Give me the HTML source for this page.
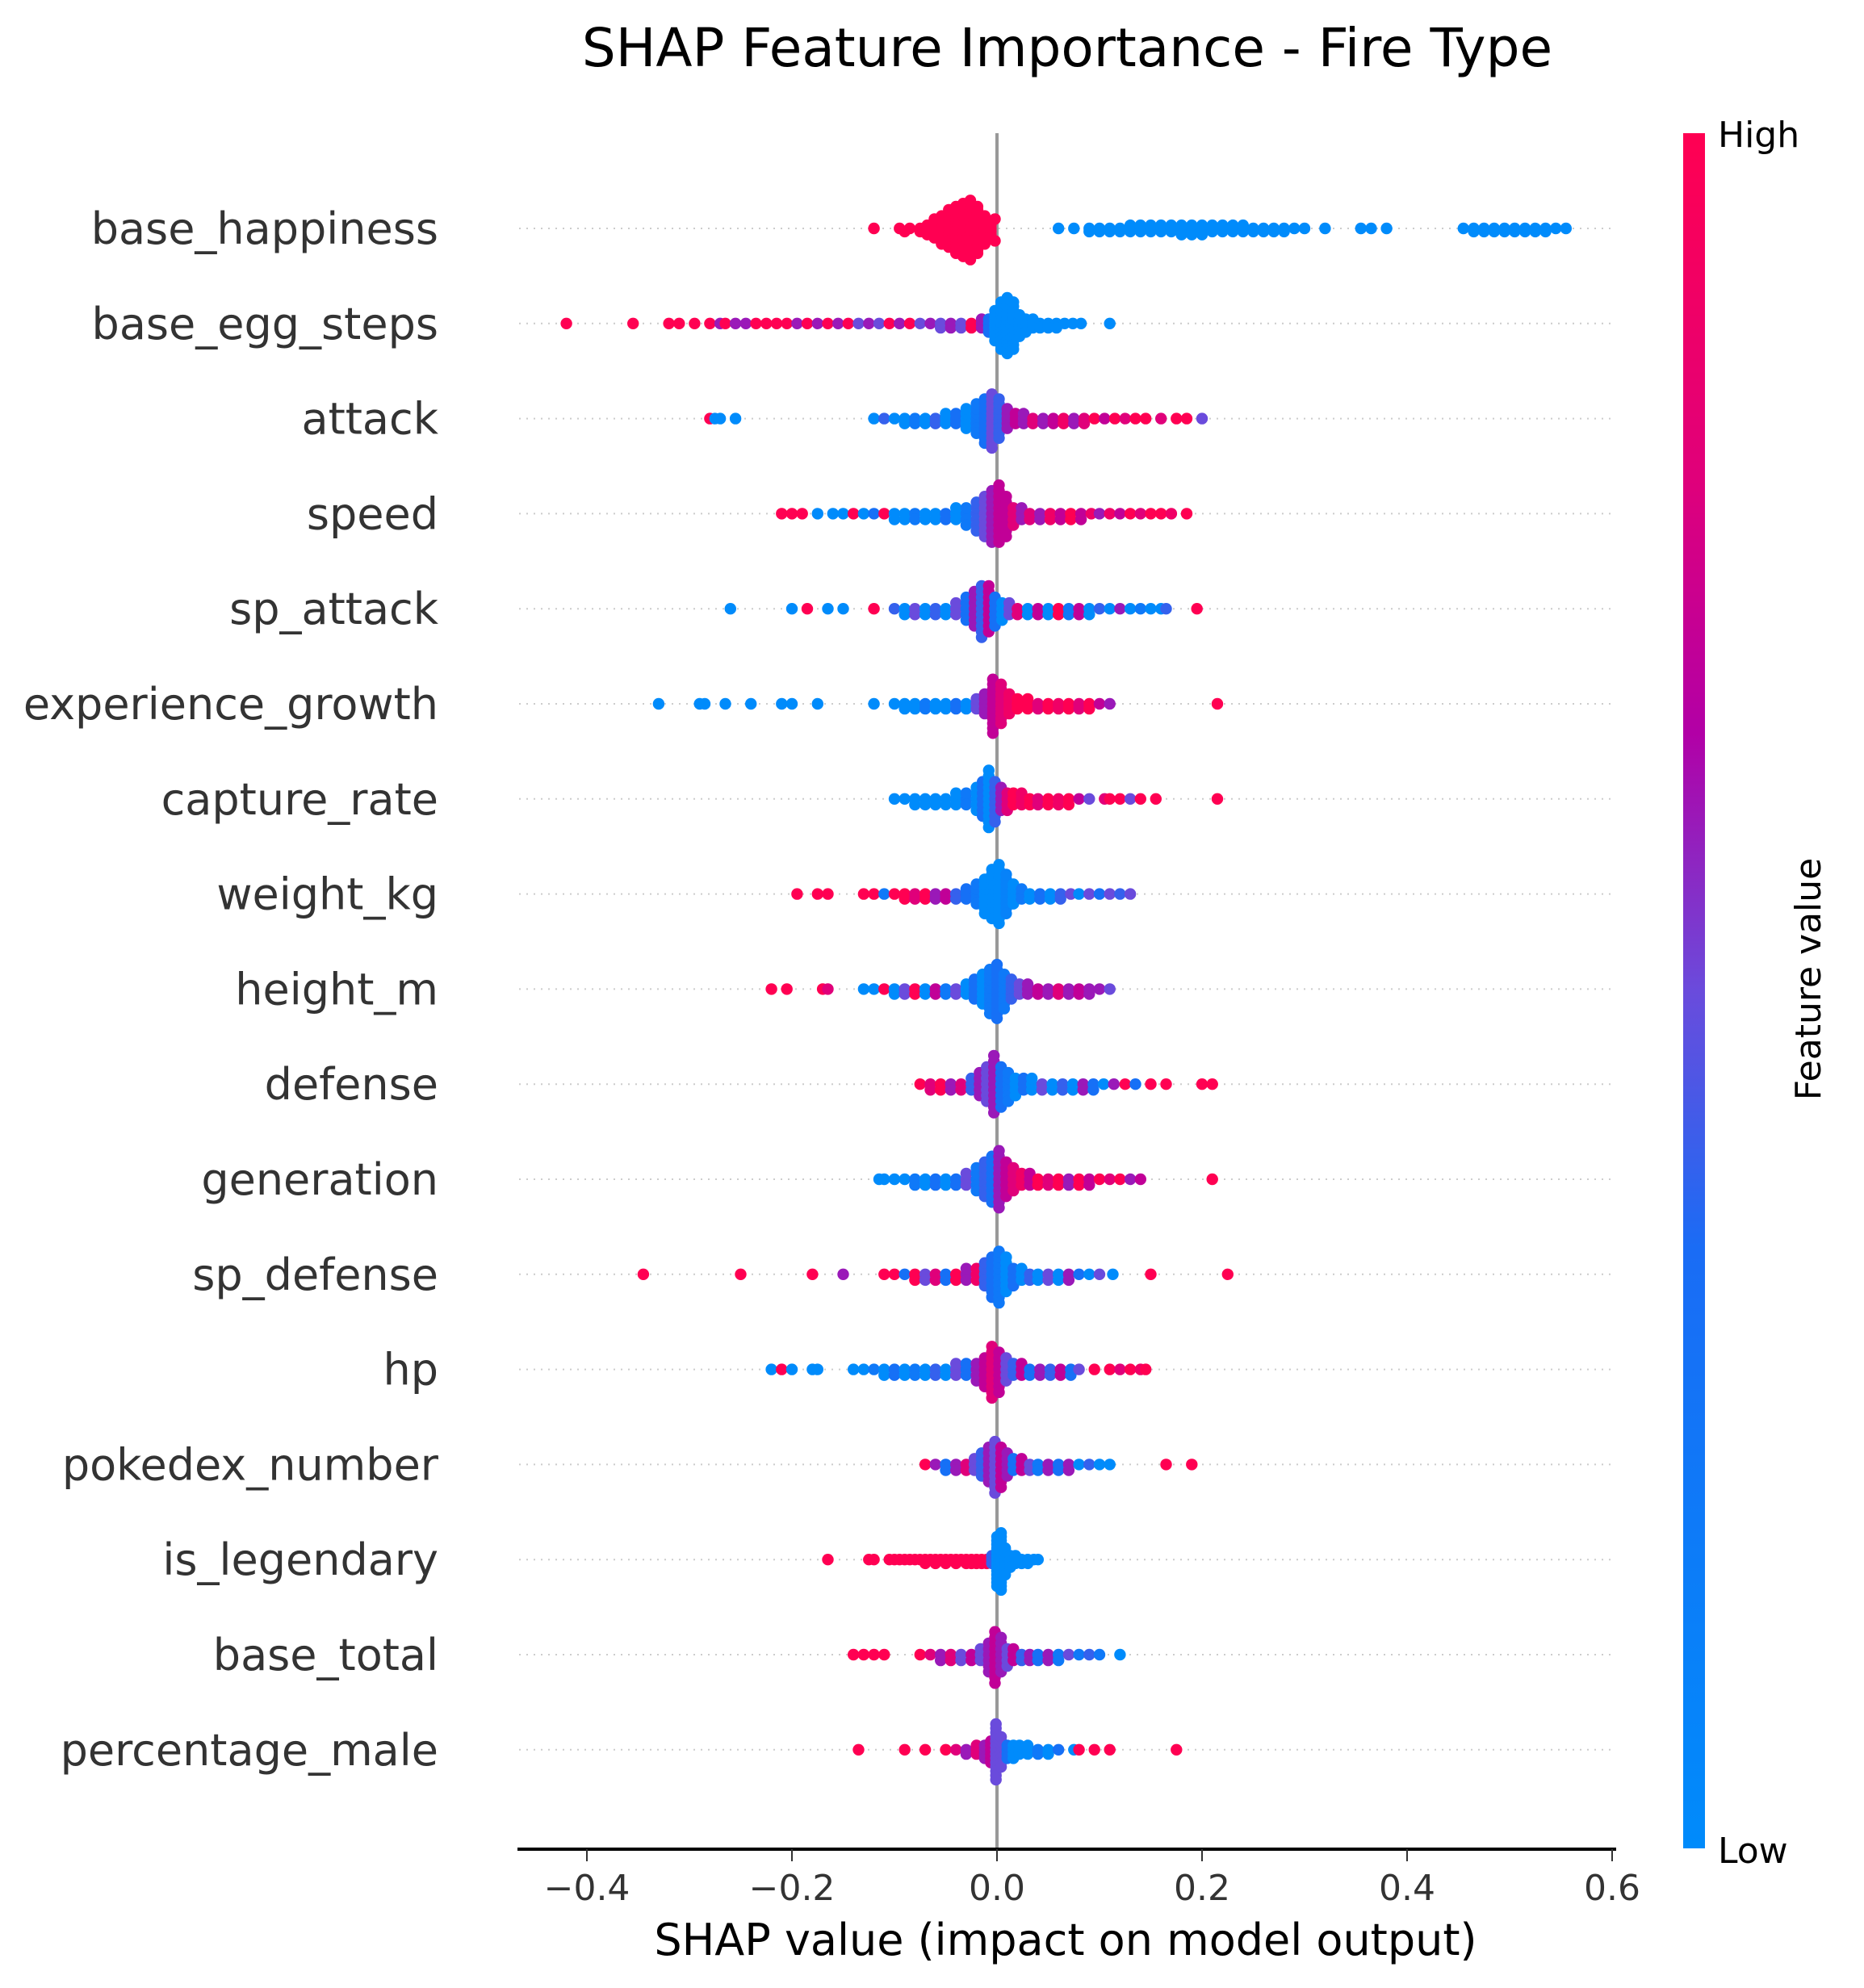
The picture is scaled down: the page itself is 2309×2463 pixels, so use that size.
<!DOCTYPE html>
<html><head><meta charset="utf-8"><style>
html,body{margin:0;padding:0;background:#fff;}
svg{display:block;font-family:"DejaVu Sans","Liberation Sans",sans-serif;}
</style></head><body>
<svg id="chart" width="2309" height="2463" viewBox="0 0 2309 2463" xmlns="http://www.w3.org/2000/svg">
<defs><linearGradient id="cbg" x1="0" y1="1" x2="0" y2="0">
<stop offset="0" stop-color="#008bfb"/><stop offset="0.35" stop-color="#1a6cf5"/><stop offset="0.5" stop-color="#6a4bdc"/><stop offset="0.65" stop-color="#b200a6"/><stop offset="0.8" stop-color="#e0007a"/><stop offset="1" stop-color="#ff0052"/></linearGradient></defs>
<text x="1322" y="82" font-size="66" text-anchor="middle" fill="#000">SHAP Feature Importance - Fire Type</text>
<g id="grid"></g><g id="zero"></g><g id="dots"></g><g id="ylabels"></g><g id="xaxis"></g>
<rect x="2085" y="165" width="27" height="2125" fill="url(#cbg)"/>
<text x="2128" y="182" font-size="44" fill="#000">High</text>
<text x="2128" y="2308" font-size="44" fill="#000">Low</text>
<text x="2270" y="1228" font-size="44" fill="#000" text-anchor="middle" transform="rotate(-90 2255 1228)">Feature value</text>
<text x="1320" y="2422" font-size="54" text-anchor="middle" fill="#000">SHAP value (impact on model output)</text>
</svg>
<script>
const features=["base_happiness","base_egg_steps","attack","speed","sp_attack","experience_growth","capture_rate","weight_kg","height_m","defense","generation","sp_defense","hp","pokedex_number","is_legendary","base_total","percentage_male"];
const xTicks=[-0.4,-0.2,0.0,0.2,0.4,0.6];
const xTickLabels=["\u22120.4","\u22120.2","0.0","0.2","0.4","0.6"];
// each entry: [shap value, feature value (0 low..1 high), count]
const shap_base_happiness=[[-0.12,1,1],[-0.095,1,1],[-0.09,1,1],[-0.085,1,1],[-0.075,1,2],[-0.068,1,4],[-0.061,1,7],[-0.054,1,10],[-0.047,1,13],[-0.040,1,16],[-0.033,1,18],[-0.026,1,20],[-0.019,1,16],[-0.012,1,10],[-0.006,1,6],[-0.002,1,2],[0.06,0,1],[0.075,0,1],[0.09,0,2],[0.1,0,2],[0.11,0,2],[0.12,0,2],[0.13,0,3],[0.14,0,3],[0.15,0,3],[0.16,0,3],[0.17,0,3],[0.18,0,4],[0.19,0,4],[0.2,0,4],[0.21,0,3],[0.22,0,3],[0.23,0,3],[0.24,0,3],[0.25,0,2],[0.26,0,2],[0.27,0,2],[0.28,0,2],[0.29,0,1],[0.3,0,1],[0.32,0,1],[0.355,0,1],[0.365,0,1],[0.38,0,1],[0.455,0,1],[0.465,0,2],[0.475,0,2],[0.485,0,2],[0.495,0,2],[0.505,0,2],[0.515,0,2],[0.525,0,2],[0.535,0,2],[0.545,0,1],[0.555,0,1]];
const shap_base_egg_steps=[[-0.42,1,1],[-0.355,1,1],[-0.32,1,1],[-0.31,1,1],[-0.295,1,1],[-0.28,1,1],[-0.27,0.6,1],[-0.265,1,1],[-0.255,0.6,1],[-0.245,0.6,1],[-0.235,1,1],[-0.225,1,1],[-0.215,1,1],[-0.205,1,1],[-0.195,0.6,1],[-0.185,1,1],[-0.175,0.6,1],[-0.165,1,1],[-0.155,0.6,1],[-0.145,1,1],[-0.135,0.5,1],[-0.125,0.6,1],[-0.115,0.5,1],[-0.105,1,1],[-0.095,0.6,1],[-0.085,1,1],[-0.075,0.5,1],[-0.065,0.6,1],[-0.055,0.5,2],[-0.045,0.6,2],[-0.035,0.5,2],[-0.025,1,2],[-0.015,0.6,3],[-0.008,0.3,4],[-0.002,0,8],[0.004,0,12],[0.01,0,14],[0.016,0,12],[0.022,0,6],[0.028,0,4],[0.035,0,3],[0.042,0,2],[0.05,0,2],[0.058,0,2],[0.066,0,1],[0.074,0,1],[0.082,0,1],[0.11,0,1]];
const shap_attack=[[-0.28,1,1],[-0.275,0,1],[-0.27,0,1],[-0.255,0,1],[-0.12,0,1],[-0.11,0.4,1],[-0.1,0,1],[-0.09,0,2],[-0.08,0.2,2],[-0.07,0,2],[-0.06,0.4,2],[-0.05,0,3],[-0.04,0.3,3],[-0.03,0,5],[-0.02,0.2,7],[-0.012,0.3,10],[-0.005,0.5,12],[0.002,0.4,9],[0.01,0.6,5],[0.018,0.7,3],[0.026,0.6,3],[0.035,0.8,2],[0.045,0.6,2],[0.055,0.7,2],[0.065,0.9,2],[0.075,0.6,2],[0.085,0.8,2],[0.095,1,1],[0.105,0.7,1],[0.115,1,1],[0.125,0.8,1],[0.135,1,1],[0.145,1,1],[0.16,0.8,1],[0.175,1,1],[0.185,1,1],[0.2,0.5,1]];
const shap_speed=[[-0.21,1,1],[-0.2,1,1],[-0.19,1,1],[-0.175,0,1],[-0.16,0,1],[-0.15,0,1],[-0.14,1,1],[-0.13,0,1],[-0.12,0.3,1],[-0.11,1,1],[-0.1,0,2],[-0.09,0,2],[-0.08,0.2,2],[-0.07,0,2],[-0.06,0,2],[-0.05,0.3,2],[-0.04,0,3],[-0.03,0.2,4],[-0.02,0.4,6],[-0.012,0.5,8],[-0.005,0.6,10],[0.002,0.7,11],[0.009,0.7,8],[0.016,0.8,4],[0.024,0.6,3],[0.032,0.8,2],[0.042,0.6,2],[0.052,0.9,2],[0.062,0.7,2],[0.072,1,2],[0.082,0.7,2],[0.092,0.9,1],[0.1,0.6,1],[0.11,0.9,1],[0.12,0.7,1],[0.13,1,1],[0.14,0.8,1],[0.15,1,1],[0.16,1,1],[0.17,0.9,1],[0.185,1,1]];
const shap_sp_attack=[[-0.26,0,1],[-0.2,0,1],[-0.185,1,1],[-0.165,0,1],[-0.15,0,1],[-0.12,1,1],[-0.1,0.4,1],[-0.09,0,2],[-0.08,0.5,2],[-0.07,0,2],[-0.06,0.4,2],[-0.05,0,2],[-0.04,0.5,3],[-0.03,0.3,5],[-0.022,0.6,7],[-0.015,0.4,10],[-0.008,0.7,9],[-0.002,0.3,6],[0.005,0,4],[0.012,0.5,3],[0.02,0.8,2],[0.03,0,2],[0.04,0.7,2],[0.05,0,2],[0.06,1,2],[0.07,0.2,2],[0.08,0.7,2],[0.09,0,2],[0.1,0.4,1],[0.11,0,1],[0.12,0.6,1],[0.13,0,1],[0.14,0.2,1],[0.15,0,1],[0.16,0,1],[0.165,0.4,1],[0.195,1,1]];
const shap_experience_growth=[[-0.33,0,1],[-0.29,0,1],[-0.285,0,1],[-0.265,0,1],[-0.24,0,1],[-0.21,0,1],[-0.2,0,1],[-0.175,0,1],[-0.12,0,1],[-0.1,0,1],[-0.09,0,2],[-0.08,0,2],[-0.07,0.2,2],[-0.06,0,2],[-0.05,0,2],[-0.04,0.3,2],[-0.03,0,2],[-0.02,0.5,3],[-0.012,0.6,5],[-0.004,0.7,12],[0.004,0.8,9],[0.012,0.9,5],[0.02,1,3],[0.03,1,3],[0.04,0.8,2],[0.05,1,2],[0.06,0.9,2],[0.07,1,2],[0.08,0.8,2],[0.09,1,2],[0.1,0.7,1],[0.11,0.6,1],[0.215,1,1]];
const shap_capture_rate=[[-0.1,0,1],[-0.09,0,1],[-0.08,0,2],[-0.07,0,2],[-0.06,0,2],[-0.05,0,2],[-0.04,0,3],[-0.03,0.2,3],[-0.02,0,5],[-0.014,0.3,7],[-0.008,0,11],[-0.002,0.4,8],[0.004,0.6,5],[0.01,0.8,4],[0.016,1,3],[0.024,0.9,3],[0.032,1,2],[0.04,0.8,2],[0.05,1,2],[0.06,0.9,2],[0.07,1,2],[0.08,0.7,1],[0.09,0.5,1],[0.105,0.8,1],[0.11,1,1],[0.12,1,1],[0.13,0.5,1],[0.14,1,1],[0.155,1,1],[0.215,1,1]];
const shap_weight_kg=[[-0.195,1,1],[-0.175,1,1],[-0.165,1,1],[-0.13,1,1],[-0.12,1,1],[-0.11,0.2,1],[-0.1,1,1],[-0.09,1,2],[-0.08,0.8,2],[-0.07,1,2],[-0.06,0.6,2],[-0.05,0.7,2],[-0.04,0.4,2],[-0.03,0.3,3],[-0.02,0.2,5],[-0.012,0,8],[-0.005,0,11],[0.002,0,13],[0.009,0.1,9],[0.016,0,5],[0.024,0.2,3],[0.032,0,2],[0.042,0.3,2],[0.052,0,2],[0.062,0.4,2],[0.072,0.5,1],[0.08,0,1],[0.09,0.5,1],[0.1,0.3,1],[0.11,0.5,1],[0.12,0.4,1],[0.13,0.5,1]];
const shap_height_m=[[-0.22,1,1],[-0.205,1,1],[-0.17,1,1],[-0.165,0.8,1],[-0.13,0,1],[-0.12,0,1],[-0.11,1,1],[-0.1,0,2],[-0.09,0.5,2],[-0.08,1,2],[-0.07,0,2],[-0.06,0.7,2],[-0.05,0.2,2],[-0.04,0.5,2],[-0.03,0,3],[-0.022,0.3,5],[-0.014,0,7],[-0.007,0.2,10],[0,0.3,12],[0.007,0.2,8],[0.014,0.4,5],[0.022,0.5,3],[0.03,0.6,3],[0.04,0.7,2],[0.05,0.6,2],[0.06,0.8,2],[0.07,0.6,2],[0.08,0.7,2],[0.09,0.6,2],[0.1,0.6,1],[0.11,0.5,1]];
const shap_defense=[[-0.075,1,1],[-0.065,0.8,2],[-0.055,1,2],[-0.045,0.6,2],[-0.035,0.8,2],[-0.025,0.4,3],[-0.017,0.6,5],[-0.01,0.5,7],[-0.003,0.6,11],[0.004,0.3,8],[0.011,0.2,6],[0.018,0,4],[0.026,0.3,3],[0.034,0,3],[0.044,0.5,2],[0.054,0,2],[0.064,0.4,2],[0.074,0,2],[0.084,0.6,2],[0.094,0.3,2],[0.104,0,1],[0.114,0.6,1],[0.125,1,1],[0.135,0.3,1],[0.15,1,1],[0.165,1,1],[0.2,1,1],[0.21,1,1]];
const shap_generation=[[-0.115,0,1],[-0.11,0,1],[-0.1,0,1],[-0.09,0,1],[-0.08,0.2,2],[-0.07,0,2],[-0.06,0.3,2],[-0.05,0,2],[-0.04,0.3,2],[-0.03,0.5,3],[-0.02,0.2,5],[-0.012,0.4,7],[-0.005,0.3,9],[0.002,0.6,11],[0.009,0.7,7],[0.016,0.8,5],[0.024,0.9,3],[0.032,0.7,3],[0.04,1,2],[0.05,0.8,2],[0.06,1,2],[0.07,0.6,2],[0.08,1,2],[0.09,0.7,2],[0.1,1,1],[0.11,0.8,1],[0.12,1,1],[0.13,0.6,1],[0.14,0.7,1],[0.21,1,1]];
const shap_sp_defense=[[-0.345,1,1],[-0.25,1,1],[-0.18,1,1],[-0.15,0.6,1],[-0.11,1,1],[-0.1,1,1],[-0.09,0.3,1],[-0.08,1,2],[-0.07,0.5,2],[-0.06,0.8,2],[-0.05,0.3,2],[-0.04,1,2],[-0.03,0.6,3],[-0.02,0.9,3],[-0.012,0.4,5],[-0.005,0.3,8],[0.002,0.2,10],[0.009,0,7],[0.016,0.3,4],[0.024,0,3],[0.032,0.4,2],[0.04,0,2],[0.05,0.5,2],[0.06,0,2],[0.07,0.6,2],[0.08,0.3,1],[0.09,0,1],[0.1,0.5,1],[0.113,0,1],[0.15,1,1],[0.225,1,1]];
const shap_hp=[[-0.22,0,1],[-0.21,1,1],[-0.2,0,1],[-0.18,0,1],[-0.175,0,1],[-0.14,0,1],[-0.13,0,1],[-0.12,0.2,1],[-0.11,0,2],[-0.1,0.3,2],[-0.09,0,2],[-0.08,0.2,2],[-0.07,0,2],[-0.06,0.4,2],[-0.05,0,2],[-0.04,0.5,3],[-0.03,0.3,3],[-0.02,0.6,4],[-0.012,0.7,6],[-0.005,0.8,10],[0.002,0.7,8],[0.009,0.5,5],[0.016,0.4,3],[0.024,0.7,3],[0.032,0.3,2],[0.042,0.6,2],[0.052,0.4,2],[0.062,0.7,2],[0.072,0.3,2],[0.08,0.5,1],[0.095,1,1],[0.11,1,1],[0.12,0.8,1],[0.13,1,1],[0.14,0.9,1],[0.145,1,1]];
const shap_pokedex_number=[[-0.07,1,1],[-0.06,0.6,1],[-0.05,0.3,2],[-0.04,0.6,2],[-0.03,0.8,2],[-0.022,0.5,3],[-0.015,0.4,5],[-0.008,0.6,7],[-0.002,0.5,10],[0.004,0.7,8],[0.01,0.6,5],[0.016,0.3,3],[0.024,0.7,3],[0.032,0.5,2],[0.04,0.2,2],[0.05,0.6,2],[0.06,0.3,2],[0.07,0.6,2],[0.08,0,1],[0.09,0.4,1],[0.1,0,1],[0.11,0,1],[0.165,1,1],[0.19,1,1]];
const shap_is_legendary=[[-0.165,1,1],[-0.125,1,1],[-0.12,1,1],[-0.105,1,1],[-0.1,1,1],[-0.095,1,1],[-0.09,1,1],[-0.085,1,1],[-0.08,1,1],[-0.075,1,1],[-0.07,1,2],[-0.065,1,1],[-0.06,1,2],[-0.055,1,1],[-0.05,1,2],[-0.045,1,1],[-0.04,1,2],[-0.035,1,1],[-0.03,1,2],[-0.025,1,2],[-0.02,1,2],[-0.015,1,2],[-0.01,1,2],[-0.005,0.4,3],[0,0,14],[0.004,0,16],[0.008,0,8],[0.013,0,4],[0.018,0,3],[0.024,0,2],[0.03,0,2],[0.036,0,1],[0.04,0,1]];
const shap_base_total=[[-0.14,1,1],[-0.13,1,1],[-0.12,1,1],[-0.11,1,1],[-0.075,1,1],[-0.065,0.8,1],[-0.055,0.6,2],[-0.045,0.8,2],[-0.035,0.5,2],[-0.025,0.7,2],[-0.016,0.5,3],[-0.008,0.6,6],[-0.002,0.7,10],[0.004,0.6,7],[0.01,0.5,4],[0.016,0.7,3],[0.024,0.4,2],[0.032,0.6,2],[0.04,0.3,2],[0.05,0.6,2],[0.06,0.2,2],[0.07,0.5,1],[0.08,0.2,1],[0.09,0.4,1],[0.1,0.2,1],[0.12,0,1]];
const shap_percentage_male=[[-0.135,1,1],[-0.09,1,1],[-0.07,1,1],[-0.05,1,1],[-0.04,0.8,1],[-0.03,0.6,2],[-0.02,0.8,3],[-0.012,0.6,4],[-0.006,0.7,6],[-0.001,0.5,14],[0.004,0.5,8],[0.01,0.3,4],[0.016,0,4],[0.022,0,3],[0.03,0,3],[0.04,0.2,2],[0.05,0,2],[0.06,0.3,1],[0.075,0,1],[0.08,1,1],[0.095,1,1],[0.11,1,1],[0.175,1,1]];
const seriesList=[shap_base_happiness,shap_base_egg_steps,shap_attack,shap_speed,shap_sp_attack,shap_experience_growth,shap_capture_rate,shap_weight_kg,shap_height_m,shap_defense,shap_generation,shap_sp_defense,shap_hp,shap_pokedex_number,shap_is_legendary,shap_base_total,shap_percentage_male];

const NS="http://www.w3.org/2000/svg";
const X0=1235, XS=1270, ROW0=283, ROWH=117.8, AXY=2291;
const xScale=v=>X0+v*XS;
const rowY=i=>ROW0+i*ROWH;
function mk(tag,attrs,parent){const e=document.createElementNS(NS,tag);for(const k in attrs)e.setAttribute(k,attrs[k]);parent.appendChild(e);return e;}
const stops=[[0,[0,139,251]],[0.35,[26,108,245]],[0.5,[106,75,220]],[0.65,[178,0,166]],[0.8,[224,0,122]],[1,[255,0,82]]];
function colorOf(t){for(let i=1;i<stops.length;i++){if(t<=stops[i][0]){const a=stops[i-1],b=stops[i];const f=(t-a[0])/(b[0]-a[0]);const c=a[1].map((v,j)=>Math.round(v+(b[1][j]-v)*f));return `rgb(${c[0]},${c[1]},${c[2]})`;}}return "rgb(255,0,82)";}

const grid=document.getElementById('grid'), dots=document.getElementById('dots'), yl=document.getElementById('ylabels'), xa=document.getElementById('xaxis'), zero=document.getElementById('zero');
features.forEach((f,i)=>{
  const y=rowY(i);
  const gl=mk('line',{x1:643,x2:2000,y1:y,y2:y,stroke:'#cccccc','stroke-width':2,'stroke-dasharray':'2,7'},grid);
  
  
  const t=mk('text',{x:543,y:y+19,'font-size':54,'text-anchor':'end',fill:'#333333'},yl);
  t.textContent=f;
  
  
});
const zl=mk('line',{x1:X0,x2:X0,y1:165,y2:AXY,stroke:'#999999','stroke-width':4},zero);



seriesList.forEach((ser,i)=>{
  const pts=[];ser.forEach(p=>{for(let k=0;k<p[2];k++)pts.push({v:p[0],c:p[1]});});
  const mn=Math.min(...pts.map(p=>p.v)),mx=Math.max(...pts.map(p=>p.v));
  const nb=100;
  pts.forEach(p=>p.q=Math.round(nb*(p.v-mn)/(mx-mn+1e-8)));
  const order=pts.map((p,j)=>j).sort((a,b)=>pts[a].q-pts[b].q||a-b);
  let layer=0,last=-1;
  order.forEach(j=>{if(pts[j].q!==last)layer=0;pts[j].ys=Math.ceil(layer/2)*((layer%2)*2-1);layer++;last=pts[j].q;});
  const m=Math.max(...pts.map(p=>p.ys+1));
  const sc=0.9*(0.4/m);
  const g=mk('g',{},dots);
  
  
  pts.forEach(p=>{
    const c=mk('circle',{cx:xScale(p.v).toFixed(1),cy:(rowY(i)+p.ys*sc*ROWH).toFixed(1),r:7.2,fill:colorOf(p.c)},g);
    
    
  });
});

const ax=mk('line',{x1:641,x2:2002,y1:AXY,y2:AXY,stroke:'#000','stroke-width':4},xa);


xTicks.forEach((v,k)=>{
  const x=xScale(v);
  const tk=mk('line',{x1:x,x2:x,y1:AXY,y2:AXY+15,stroke:'#333','stroke-width':2},xa);
  
  
  const tl=mk('text',{x:x,y:AXY+63,'font-size':44,'text-anchor':'middle',fill:'#333333'},xa);
  tl.textContent=xTickLabels[k];
  
  
});
</script>
</body></html>
